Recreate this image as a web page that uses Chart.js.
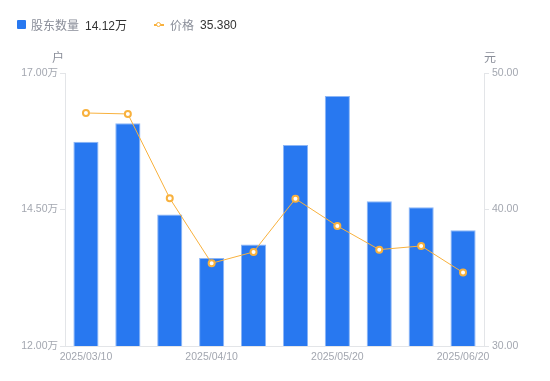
<!DOCTYPE html>
<html>
<head>
<meta charset="utf-8">
<script src="https://cdn.jsdelivr.net/npm/chart.js@4/dist/chart.umd.min.js"></script>
<style>
  body { margin: 0; background: #fff; font-family: 'Liberation Sans', 'Noto Sans CJK SC', sans-serif; }
  #wrap { position: relative; width: 550px; height: 381px; }
  #legend { position: absolute; left: 17px; top: 16px; font-size: 12px; display: flex; align-items: center; }
  #legend .item { display: flex; align-items: center; margin-right: 27px; }
  #legend .name { color: #8a8e99; margin-right: 6px; }
  #legend .val { color: #333; }
  .sq { width: 9px; height: 9px; background: #2878f0; border-radius: 1px; margin-right: 5px; }
  .ln { position: relative; width: 10px; height: 2px; background: #f8b13d; margin-right: 6px; }
  .ln::after { content: ''; position: absolute; left: 2px; top: -2px; width: 3px; height: 3px; border: 1.5px solid #f8b13d; border-radius: 50%; background: #fff; }
</style>
</head>
<body>
<div id="wrap">
  <div id="legend">
    <div class="item"><div class="sq"></div><span class="name">股东数量</span><span class="val">14.12万</span></div>
    <div class="item"><div class="ln"></div><span class="name">价格</span><span class="val">35.380</span></div>
  </div>
  <canvas id="myChart" width="550" height="381"></canvas>
</div>
<script>
// 数据
var dates = ['2025/03/10', '2025/03/20', '2025/03/31', '2025/04/10', '2025/04/20',
             '2025/04/30', '2025/05/20', '2025/05/31', '2025/06/10', '2025/06/20'];
var holders = [15.74, 16.08, 14.41, 13.61, 13.86, 15.68, 16.58, 14.65, 14.54, 14.12]; // 万户
var prices = [47.07, 47.00, 40.82, 36.06, 36.89, 40.79, 38.79, 37.06, 37.33, 35.38];  // 元
var leftTicks = [12, 14.5, 17];
var rightTicks = [30, 40, 50];

var gray = '#a3a7b0';
var axisLine = '#e3e5e8';
var tickFont = { size: 10.5, family: "'Liberation Sans', 'Noto Sans CJK SC', sans-serif" };

// Títulos de los ejes (户 / 元)
var axisTitles = {
    id: 'axisTitles',
    afterDraw: function(chart) {
        var ctx = chart.ctx;
        var area = chart.chartArea;
        ctx.save();
        ctx.font = '12px "Noto Sans CJK SC", sans-serif';
        ctx.fillStyle = '#8a8e99';
        ctx.textAlign = 'center';
        ctx.textBaseline = 'middle';
        ctx.fillText('户', area.left - 7, 57);
        ctx.fillText('元', area.right + 6, 57);
        ctx.restore();
    }
};

var ctx = document.getElementById('myChart').getContext('2d');
var myChart = new Chart(ctx, {
    type: 'bar',
    data: {
        labels: dates,
        datasets: [{
            type: 'line',
            label: '价格',
            data: prices,
            yAxisID: 'y1',
            borderColor: '#f8b13d',
            borderWidth: 1,
            pointRadius: 3,
            pointBorderWidth: 2,
            pointBackgroundColor: '#fff',
            pointBorderColor: '#f8b13d',
            tension: 0,
            order: 0
        }, {
            label: '股东数量',
            data: holders,
            yAxisID: 'y',
            backgroundColor: '#2878f0',
            borderColor: '#8cb6f6',
            borderWidth: 1,
            barPercentage: 0.6,
            categoryPercentage: 1,
            order: 1
        }]
    },
    options: {
        responsive: false,
        animation: false,
        layout: { padding: { top: 73, left: 0, right: 0, bottom: 0 } },
        plugins: { legend: { display: false }, tooltip: { enabled: false } },
        scales: {
            x: {
                afterFit: function(s) { s.height = 35; },
                grid: { display: false, drawTicks: false },
                border: { color: axisLine },
                ticks: {
                    autoSkip: false, maxRotation: 0, padding: 5,
                    color: gray, font: tickFont,
                    callback: function(v, i) { return i % 3 === 0 ? dates[i] : ''; }
                }
            },
            y: {
                position: 'left',
                min: 12, max: 17,
                afterFit: function(s) { s.width = 65; },
                afterBuildTicks: function(s) { s.ticks = leftTicks.map(function(v) { return { value: v }; }); },
                grid: { drawOnChartArea: false, tickLength: 5, color: axisLine },
                border: { color: axisLine },
                ticks: {
                    color: gray, padding: 2, font: tickFont,
                    callback: function(v) { return v.toFixed(2) + '万'; }
                }
            },
            y1: {
                position: 'right',
                min: 30, max: 50,
                afterFit: function(s) { s.width = 66; },
                afterBuildTicks: function(s) { s.ticks = rightTicks.map(function(v) { return { value: v }; }); },
                grid: { drawOnChartArea: false, tickLength: 5, color: axisLine },
                border: { color: axisLine },
                ticks: {
                    color: gray, padding: 3, font: tickFont,
                    callback: function(v) { return v.toFixed(2); }
                }
            }
        }
    },
    plugins: [axisTitles]
});
</script>
</body>
</html>
